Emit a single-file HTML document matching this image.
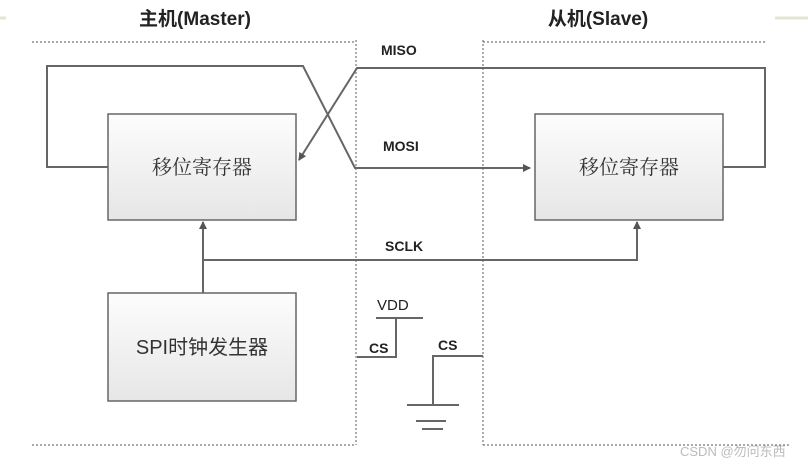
<!DOCTYPE html>
<html><head><meta charset="utf-8"><style>
body{margin:0;background:#fff;}
svg{display:block}
text{font-family:"Liberation Sans","Noto Sans CJK SC",sans-serif;}
</style></head><body>
<svg width="808" height="467" viewBox="0 0 808 467" xmlns="http://www.w3.org/2000/svg">
<defs>
<linearGradient id="g" x1="0" y1="0" x2="0" y2="1"><stop offset="0" stop-color="#fdfdfd"/><stop offset="1" stop-color="#e6e6e6"/></linearGradient>
<marker id="a" markerWidth="8" markerHeight="8" refX="7" refY="4" orient="auto" markerUnits="userSpaceOnUse"><path d="M0,0 L8,4 L0,8 z" fill="#555"/></marker>
</defs>
<line x1="0" y1="18" x2="6" y2="18" stroke="#e3e6d2" stroke-width="3"/>
<line x1="775" y1="18" x2="808" y2="18" stroke="#e3e6d2" stroke-width="3"/>
<text x="195" y="25" font-size="19" font-weight="bold" text-anchor="middle" fill="#222">主机(Master)</text>
<text x="598" y="25" font-size="19" font-weight="bold" text-anchor="middle" fill="#222">从机(Slave)</text>
<g stroke="#777" stroke-width="1.2" stroke-dasharray="2,2" fill="none">
<line x1="32" y1="42" x2="356" y2="42"/>
<line x1="356" y1="40" x2="356" y2="445"/>
<line x1="32" y1="445" x2="356" y2="445"/>
<line x1="483" y1="42" x2="765" y2="42"/>
<line x1="483" y1="40" x2="483" y2="445"/>
<line x1="483" y1="445" x2="790" y2="445"/>
</g>
<g fill="url(#g)" stroke="#666" stroke-width="1.5">
<rect x="108" y="114" width="188" height="106"/>
<rect x="535" y="114" width="188" height="106"/>
<rect x="108" y="293" width="188" height="108"/>
</g>
<g font-size="20" fill="#333" text-anchor="middle">
<text x="202" y="174" style="font-family:'Noto Serif CJK SC',serif">移位寄存器</text>
<text x="629" y="174" style="font-family:'Noto Serif CJK SC',serif">移位寄存器</text>
<text x="202" y="354">SPI时钟发生器</text>
</g>
<g stroke="#666" stroke-width="2" fill="none">
<polyline points="108,167 47,167 47,66 303,66 355,168 530,168" marker-end="url(#a)"/>
<polyline points="723,167 765,167 765,68 357,68 299,160" marker-end="url(#a)"/>
<polyline points="203,293 203,222" marker-end="url(#a)"/>
<polyline points="203,260 637,260 637,222" marker-end="url(#a)"/>
<polyline points="357,357 396,357 396,318"/>
<line x1="376" y1="318" x2="423" y2="318"/>
<polyline points="483,356 433,356 433,405"/>
<line x1="407" y1="405" x2="459" y2="405"/>
<line x1="416" y1="421" x2="446" y2="421"/>
<line x1="422" y1="429" x2="443" y2="429"/>
</g>
<g font-size="14" font-weight="bold" fill="#222">
<text x="381" y="55">MISO</text>
<text x="383" y="151">MOSI</text>
<text x="385" y="251">SCLK</text>
<text x="369" y="353">CS</text>
<text x="438" y="350">CS</text>
</g>
<text x="377" y="310" font-size="15" fill="#222">VDD</text>
<text x="680" y="456" font-size="13" fill="#bbb">CSDN @勿问东西</text>
</svg>
</body></html>
